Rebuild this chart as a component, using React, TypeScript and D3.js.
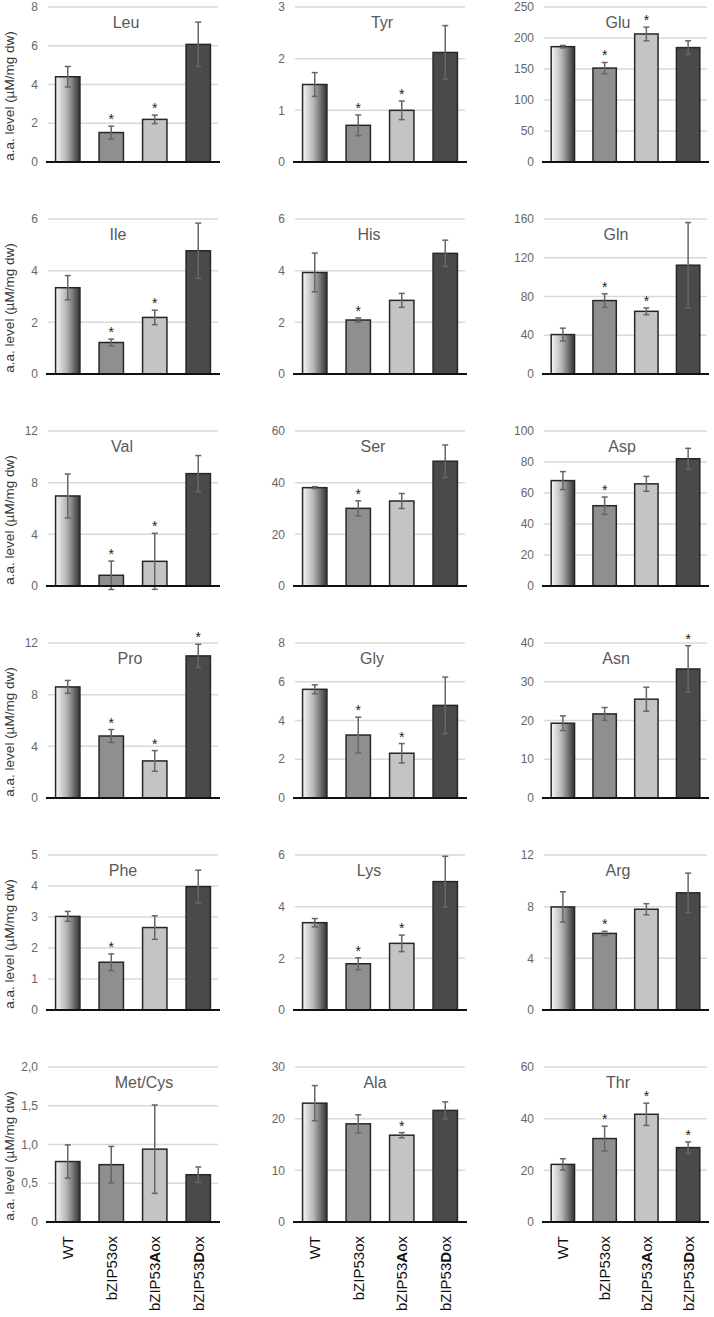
import React from "react";
import * as d3 from "d3";

const groups = ["WT", "bZIP53ox", "bZIP53Aox", "bZIP53Dox"];
const aminoAcids = ["Leu", "Tyr", "Glu", "Ile", "His", "Gln", "Val", "Ser", "Asp", "Pro", "Gly", "Asn", "Phe", "Lys", "Arg", "Met/Cys", "Ala", "Thr"];
const means = [
  [4.4, 1.52, 2.2, 6.07],
  [1.5, 0.71, 1.0, 2.12],
  [186, 151.5, 206.5, 184.5],
  [3.34, 1.22, 2.19, 4.77],
  [3.93, 2.09, 2.85, 4.67],
  [40.7, 75.8, 64.7, 112.3],
  [6.97, 0.83, 1.91, 8.7],
  [38.06, 30.06, 32.9, 48.3],
  [68, 51.8, 65.9, 82.1],
  [8.6, 4.8, 2.87, 11.0],
  [5.61, 3.25, 2.31, 4.78],
  [19.3, 21.7, 25.5, 33.3],
  [3.02, 1.54, 2.66, 3.98],
  [3.38, 1.79, 2.58, 4.97],
  [7.98, 5.93, 7.8, 9.07],
  [0.78, 0.74, 0.94, 0.61],
  [23.0, 19.0, 16.8, 21.6],
  [22.3, 32.3, 41.7, 28.8],
];
const errors = [
  [0.53, 0.33, 0.22, 1.15],
  [0.23, 0.2, 0.18, 0.52],
  [2, 9, 11, 11],
  [0.47, 0.13, 0.28, 1.07],
  [0.75, 0.08, 0.27, 0.51],
  [6.6, 7, 3.5, 44],
  [1.7, 1.1, 2.17, 1.4],
  [0.4, 2.9, 2.9, 6.3],
  [5.8, 5.6, 4.8, 6.7],
  [0.5, 0.5, 0.8, 0.9],
  [0.23, 0.92, 0.5, 1.46],
  [1.9, 1.65, 3.1, 6],
  [0.16, 0.27, 0.38, 0.53],
  [0.16, 0.23, 0.32, 0.98],
  [1.17, 0.16, 0.43, 1.53],
  [0.215, 0.235, 0.57, 0.1],
  [3.4, 1.75, 0.5, 1.65],
  [2.2, 4.8, 4.3, 2.2],
];
const significant = [
  [0, 1, 1, 0], [0, 1, 1, 0], [0, 1, 1, 0],
  [0, 1, 1, 0], [0, 1, 0, 0], [0, 1, 1, 0],
  [0, 1, 1, 0], [0, 1, 0, 0], [0, 1, 0, 0],
  [0, 1, 1, 1], [0, 1, 1, 0], [0, 0, 0, 1],
  [0, 1, 0, 0], [0, 1, 1, 0], [0, 1, 0, 0],
  [0, 0, 0, 0], [0, 0, 1, 0], [0, 1, 1, 1],
];
const yMax = [8, 3, 250, 6, 6, 160, 12, 60, 100, 12, 8, 40, 5, 6, 12, 2, 30, 60];
const tickStep = [2, 1, 50, 2, 2, 40, 4, 20, 20, 4, 2, 10, 1, 2, 4, 0.5, 10, 20];
const yLabel = "a.a. level (µM/mg dw)";

// layout
const rowTop = [7, 219, 431, 643, 855, 1067];
const plotH = 155;
const colX = [[46, 220], [293, 467], [542, 709]];
const tickRight = [38, 285, 534];
const titleX = [126, 382, 618, 118, 369, 616, 122, 373, 622, 130, 372, 616, 123, 369, 618, 144, 375, 618];
const barFills = ["url(#wtGrad)", "#8f8f8f", "#c4c4c4", "#4a4a4a"];

function fmtTick(v: number, step: number) {
  if (v === 0) return "0";
  if (step < 1) return d3.format(".1f")(v).replace(".", ",");
  return d3.format("d")(v);
}

function Panel({ i }: { i: number }) {
  const row = Math.floor(i / 3);
  const col = i % 3;
  const top = rowTop[row];
  const bottom = top + plotH;
  const [x0, x1] = colX[col];
  const x = d3.scaleBand<string>().domain(groups).range([x0, x1]).padding(0);
  const bw = x.bandwidth() * 0.56;
  const y = d3.scaleLinear().domain([0, yMax[i]]).range([bottom, top]);
  const ticks = d3.range(0, yMax[i] + tickStep[i] / 2, tickStep[i]);
  return (
    <g>
      {ticks.map((t) => (
        <g key={t}>
          {t > 0 && (
            <line x1={x0 + 2} x2={x1 - 2} y1={y(t)} y2={y(t)} stroke="#d9d9d9" strokeWidth={1.5} />
          )}
          <text x={tickRight[col]} y={y(t)} dy="0.35em" textAnchor="end" fontSize={12} fill="#666">
            {fmtTick(t, tickStep[i])}
          </text>
        </g>
      ))}
      <text x={titleX[i]} y={top + 21} textAnchor="middle" fontSize={16} fill="#595959">
        {aminoAcids[i]}
      </text>
      {groups.map((g, j) => {
        const cx = (x(g) as number) + x.bandwidth() / 2;
        const m = means[i][j];
        const e = errors[i][j];
        const yt = y(m + e);
        const yb = y(m - e);
        return (
          <g key={g}>
            <rect x={cx - bw / 2} y={y(m)} width={bw} height={bottom - y(m)} fill={barFills[j]} stroke="#262626" strokeWidth={1.5} />
            <line x1={cx} x2={cx} y1={yt} y2={yb} stroke="#666" strokeWidth={1.5} />
            <line x1={cx - 3} x2={cx + 3} y1={yt} y2={yt} stroke="#666" strokeWidth={1.5} />
            <line x1={cx - 3} x2={cx + 3} y1={yb} y2={yb} stroke="#666" strokeWidth={1.5} />
            {significant[i][j] === 1 && (
              <text x={cx} y={yt - 2} textAnchor="middle" fontSize={14} fill="#222">
                *
              </text>
            )}
          </g>
        );
      })}
      <line x1={x0} x2={x1} y1={bottom} y2={bottom} stroke="#111" strokeWidth={2} />
      {col === 0 && (
        <text
          transform={`translate(14,${top + 89}) rotate(-90)`}
          textAnchor="middle"
          fontSize={13.5}
          fill="#333"
        >
          {yLabel}
        </text>
      )}
      {row === 5 &&
        groups.map((g, j) => {
          const cx = (x(g) as number) + x.bandwidth() / 2;
          const m = g.match(/^(bZIP53)([AD])(ox)$/);
          return (
            <text
              key={g}
              transform={`translate(${cx + 5.5},${bottom + 14}) rotate(-90)`}
              textAnchor="end"
              fontSize={15}
              fill="#111"
            >
              {m ? (
                <>
                  <tspan>{m[1]}</tspan>
                  <tspan fontWeight="bold">{m[2]}</tspan>
                  <tspan>{m[3]}</tspan>
                </>
              ) : (
                g
              )}
            </text>
          );
        })}
    </g>
  );
}

export default function App() {
  return (
    <div style={{ position: "absolute", left: 0, top: 0 }}>
      <svg width={714} height={1317} style={{ display: "block", fontFamily: "Arial, 'Liberation Sans', sans-serif" }}>
        <defs>
          <linearGradient id="wtGrad" x1="0" x2="1" y1="0" y2="0">
            <stop offset="0%" stopColor="#f7f7f7" />
            <stop offset="45%" stopColor="#b5b5b5" />
            <stop offset="100%" stopColor="#333" />
          </linearGradient>
        </defs>
        <rect width={714} height={1317} fill="#fff" />
        {aminoAcids.map((_, i) => (
          <Panel key={i} i={i} />
        ))}
      </svg>
    </div>
  );
}
